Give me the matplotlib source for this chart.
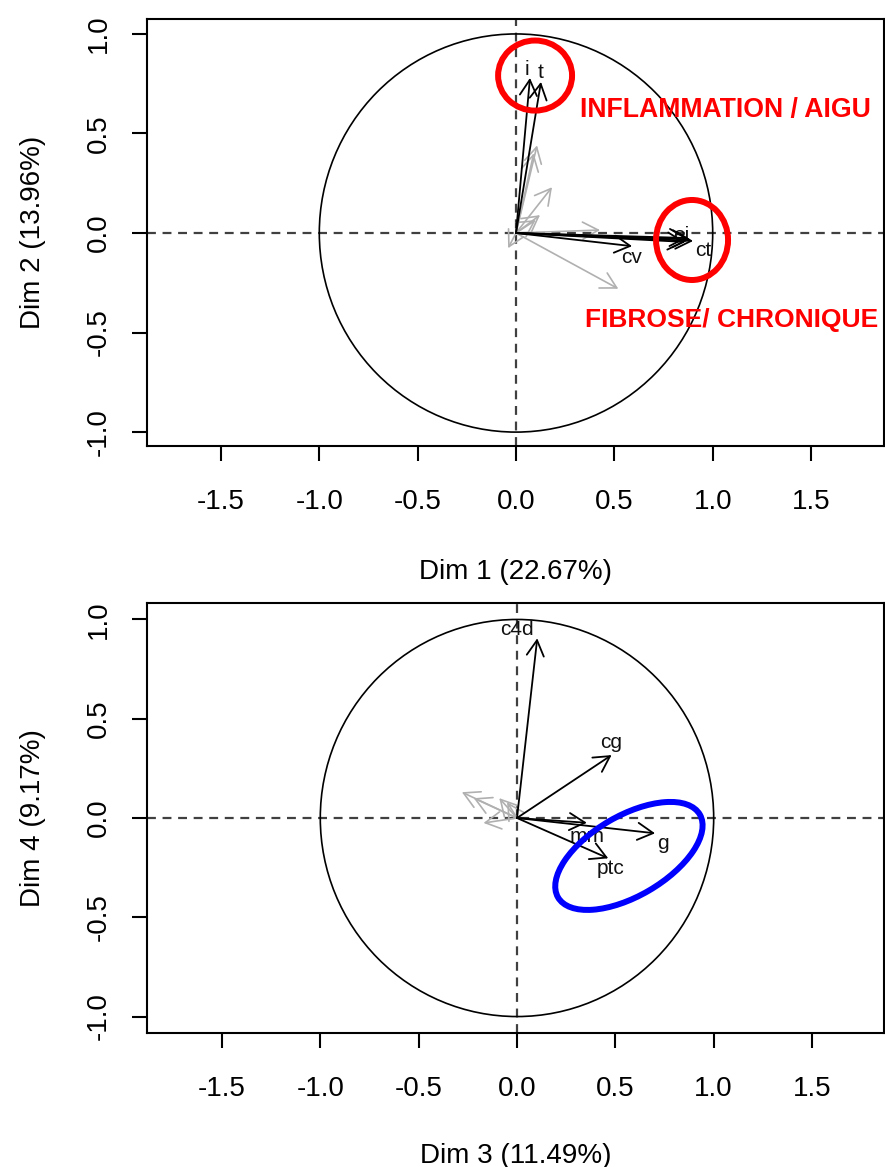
import matplotlib
matplotlib.use("Agg")
import matplotlib.pyplot as plt
from matplotlib.patches import Circle, Ellipse

plt.rcParams['font.family'] = ['Liberation Sans', 'DejaVu Sans']
plt.rcParams['axes.unicode_minus'] = False

# ---------------- data ----------------
# Panel 1: Dim 1 vs Dim 2
p1_black_names = ['i', 't', 'ei', 'ct', '', '', 'cv']
p1_black_x = [0.071, 0.127, 0.870, 0.900, 0.885, 0.860, 0.590]
p1_black_y = [0.779, 0.759, -0.025, -0.040, -0.032, -0.045, -0.066]
p1_grey_x = [0.107, 0.090, 0.183, 0.122, 0.100, -0.040, 0.427, 0.520]
p1_grey_y = [0.440, 0.400, 0.230, 0.090, 0.065, -0.076, 0.015, -0.280]
p1_xlabel = 'Dim 1 (22.67%)'
p1_ylabel = 'Dim 2 (13.96%)'

# Panel 2: Dim 3 vs Dim 4
p2_black_names = ['c4d', 'cg', 'g', 'mm', 'ptc']
p2_black_x = [0.103, 0.481, 0.702, 0.355, 0.464]
p2_black_y = [0.905, 0.317, -0.077, -0.024, -0.203]
p2_grey_x = [-0.280, -0.220, -0.090, -0.050, -0.170]
p2_grey_y = [0.130, 0.100, 0.100, 0.080, -0.025]
p2_xlabel = 'Dim 3 (11.49%)'
p2_ylabel = 'Dim 4 (9.17%)'

x_ticks = [-1.5, -1.0, -0.5, 0.0, 0.5, 1.0, 1.5]
y_ticks = [-1.0, -0.5, 0.0, 0.5, 1.0]

annot_top = 'INFLAMMATION / AIGU'
annot_bottom = 'FIBROSE/ CHRONIQUE'

# label offsets (points) for arrow labels
p1_label_offsets = [(-2.5, 6), (-0.5, 6.5), (-4, 2), (7, -6.5), (0, 0), (0, 0), (0, -8)]
p2_label_offsets = [(-14.5, 6), (0, 9), (6, -7), (0, -10), (1.5, -7)]

# ---------------- figure ----------------
fig = plt.figure(figsize=(8.85, 11.67), dpi=100)
ax1 = fig.add_axes([0.1661, 0.6178, 0.8328, 0.3659])
ax2 = fig.add_axes([0.1661, 0.1148, 0.8328, 0.3685])

FS = 20
ARROW_STYLE = '->,head_length=0.4,head_width=0.22'


def setup(ax, xlim, ylim, xlabel, ylabel):
    ax.set_xlim(*xlim)
    ax.set_ylim(*ylim)
    ax.set_xticks(x_ticks)
    ax.set_yticks(y_ticks)
    ax.set_xticklabels([f'{v:.1f}' for v in x_ticks])
    ax.set_yticklabels([f'{v:.1f}' for v in y_ticks], rotation=90, va='center')
    for s in ax.spines.values():
        s.set_linewidth(1.5)
        s.set_color('black')
    ax.tick_params(axis='both', direction='out', length=11, width=1.5,
                   labelsize=FS, color='black')
    ax.tick_params(axis='x', pad=20)
    ax.tick_params(axis='y', pad=14.5)
    ax.axhline(0, color='#404040', lw=1.6, ls=(0, (4, 3)), zorder=1)
    ax.axvline(0, color='#404040', lw=1.6, ls=(0, (4, 3)), zorder=1)
    ax.add_patch(Circle((0, 0), 1.0, fill=False, color='black', lw=1.2, zorder=2))
    ax.set_xlabel(xlabel, fontsize=FS)
    ax.set_ylabel(ylabel, fontsize=FS)
    ax.xaxis.label.set_va('center')
    ax.yaxis.label.set_va('center')


def arrows(ax, xs, ys, color, lw, zorder):
    for x, y in zip(xs, ys):
        ax.annotate('', xy=(x, y), xytext=(0, 0),
                    arrowprops=dict(arrowstyle=ARROW_STYLE, color=color, lw=lw,
                                    shrinkA=0, shrinkB=0, mutation_scale=28),
                    zorder=zorder)


def labels(ax, names, xs, ys, offsets):
    for n, x, y, off in zip(names, xs, ys, offsets):
        if n:
            ax.annotate(n, xy=(x, y), xytext=off, textcoords='offset points',
                        ha='center', va='center', fontsize=15, color='#111111')


setup(ax1, (-1.876, 1.871), (-1.070, 1.075), p1_xlabel, p1_ylabel)
arrows(ax1, p1_grey_x, p1_grey_y, '#b0b0b0', 1.2, 3)
arrows(ax1, p1_black_x, p1_black_y, 'black', 1.3, 4)
labels(ax1, p1_black_names, p1_black_x, p1_black_y, p1_label_offsets)
ax1.xaxis.set_label_coords(0.5, -0.296)
ax1.yaxis.set_label_coords(-0.154, 0.5)

setup(ax2, (-1.881, 1.866), (-1.083, 1.083), p2_xlabel, p2_ylabel)
arrows(ax2, p2_grey_x, p2_grey_y, '#b0b0b0', 1.2, 3)
arrows(ax2, p2_black_x, p2_black_y, 'black', 1.3, 4)
labels(ax2, p2_black_names, p2_black_x, p2_black_y, p2_label_offsets)
ax2.xaxis.set_label_coords(0.5, -0.286)
ax2.yaxis.set_label_coords(-0.154, 0.5)

# ---------------- hand-drawn annotations ----------------
RED = '#ff0000'
ax1.add_patch(Ellipse((0.097, 0.791), 0.376, 0.352, fill=False, ec=RED, lw=4.3, zorder=6))
ax1.add_patch(Ellipse((0.895, -0.035), 0.366, 0.402, fill=False, ec=RED, lw=4.3, zorder=6))
ax1.text(0.325, 0.618, annot_top, color=RED, fontsize=19.2, fontweight='bold',
         ha='left', va='center', zorder=7)
ax1.text(0.352, -0.437, annot_bottom, color=RED, fontsize=19.0, fontweight='bold',
         ha='left', va='center', zorder=7)

ax2.add_patch(Ellipse((0.569, -0.191), 0.833, 0.404, angle=30, fill=False,
                      ec='#0000ff', lw=4.3, zorder=6))

fig.savefig('out.png', dpi=100)
